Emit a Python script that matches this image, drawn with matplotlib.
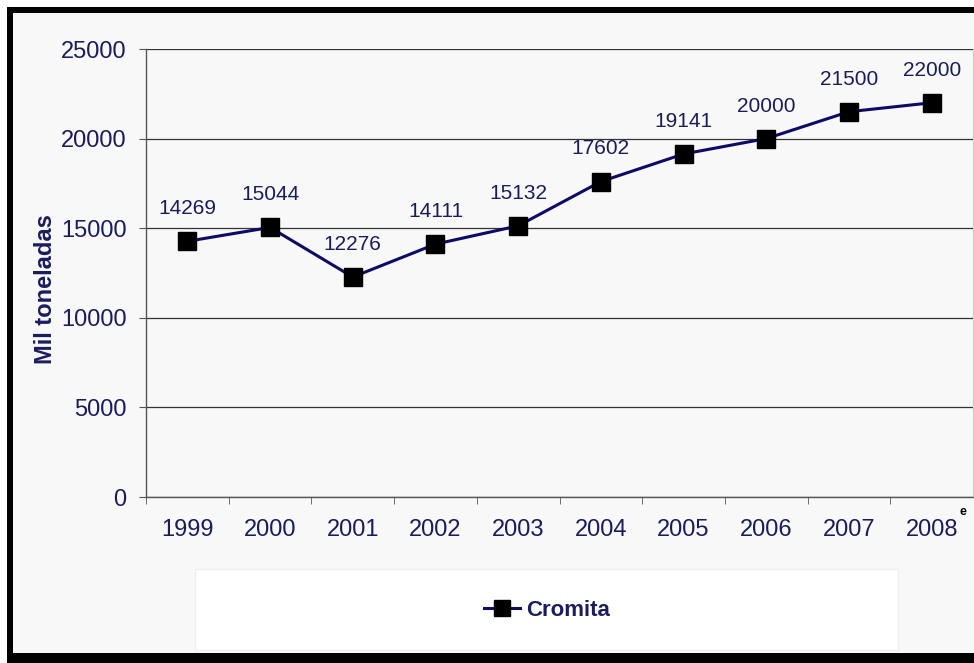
import matplotlib
matplotlib.use('Agg')
import matplotlib.pyplot as plt
import matplotlib.lines as mlines
from matplotlib.patches import Rectangle

# ---- Data ----

years  = ['1999', '2000', '2001', '2002', '2003', '2004', '2005', '2006', '2007', '2008']
cromita = [14269, 15044, 12276, 14111, 15132, 17602, 19141, 20000, 21500, 22000]
yticks = [0, 5000, 10000, 15000, 20000, 25000]

plt.rcParams['font.family'] = ['Liberation Sans', 'DejaVu Sans']

W, H = 974, 663
navy = '#1b1b5e'
line_col = '#0c0c66'

fig = plt.figure(figsize=(W / 100, H / 100), dpi=100, facecolor='white')

# ---- Outer frame: black slab with a light panel on top (right side runs off) ----
fig.patches.append(Rectangle((7 / W, -0.1), 1.1, 1.1 - 7 / H,
                             transform=fig.transFigure, facecolor='black',
                             edgecolor='none', zorder=-6))
fig.patches.append(Rectangle((13 / W, 1 - 653 / H), 1.1, (653 - 13) / H,
                             transform=fig.transFigure, facecolor='#f8f8f8',
                             edgecolor='none', zorder=-5))

# ---- Legend box ----
fig.patches.append(Rectangle((195 / W, 1 - 650 / H), (898 - 195) / W, (650 - 569) / H,
                             transform=fig.transFigure, facecolor='white',
                             edgecolor='#eeeeee', linewidth=1, zorder=-4))

ax = fig.add_axes([146 / W, 1 - 497 / H, (973 - 146) / W, (497 - 49) / H])
ax.set_facecolor('#f8f8f8')

x = list(range(len(years)))
ax.plot(x, cromita, color=line_col, linewidth=2.2, marker='s',
        markersize=13.5, markerfacecolor='black', markeredgecolor='black',
        zorder=3, clip_on=False)

for xi, v in zip(x, cromita):
    ax.annotate(f'{v}', (xi, v), xytext=(0, 19.5), textcoords='offset points',
                ha='center', va='baseline', fontsize=15, color=navy)

ax.set_xlim(-0.5, len(years) - 0.5)
ax.set_ylim(0, 25000)
ax.set_yticks(yticks)
ax.set_yticklabels([str(t) for t in yticks], fontsize=17, color=navy)
ax.set_xticks(x)
ax.set_xticklabels(years, fontsize=17, color=navy)
ax.set_xticks([i - 0.5 for i in range(len(years))], minor=True)
ax.tick_params(axis='x', which='major', length=0, pad=16)
ax.tick_params(axis='x', which='minor', length=5, color='#555555', direction='out')
ax.tick_params(axis='y', length=5, color='#555555', pad=9)

ax.grid(axis='y', color='#333333', linewidth=0.9, zorder=1)
ax.set_axisbelow(True)
for side in ['left', 'bottom']:
    ax.spines[side].set_color('#555555')
    ax.spines[side].set_linewidth(1.0)
ax.spines['top'].set_visible(False)
ax.spines['right'].set_color('#c8c8c8')

# axis title sits a little below the axes' middle
fig.text(46 / W, 1 - 289 / H, 'Mil toneladas', rotation=90, fontsize=17,
         fontweight='bold', color=navy, ha='center', va='center')

# estimate marker on last year
fig.text(963 / W, 1 - 512 / H, 'e', fontsize=9, fontweight='bold', color='black',
         ha='center', va='center')

handle = mlines.Line2D([], [], color=line_col, linewidth=2.2, marker='s',
                       markersize=11, markerfacecolor='black', markeredgecolor='black')
fig.legend(handles=[handle], labels=['Cromita'], loc='center',
           bbox_to_anchor=(547 / W, 1 - 610 / H), frameon=False,
           prop={'size': 16, 'weight': 'bold'}, labelcolor=navy,
           handlelength=1.6, handletextpad=0.3)

fig.savefig('out.png', dpi=100, facecolor=fig.get_facecolor())
